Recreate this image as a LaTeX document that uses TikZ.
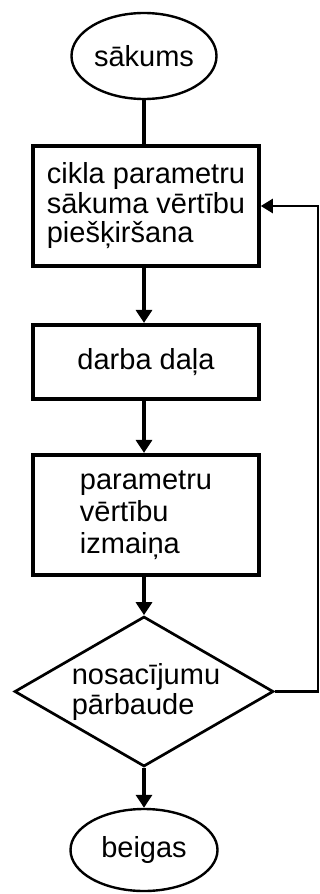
\documentclass[tikz,border=0pt]{standalone}
\usepackage{fontspec}
\setmainfont{Liberation Sans}
\usetikzlibrary{shapes.geometric,arrows.meta}
\begin{document}
\begin{tikzpicture}[x=1pt,y=-1pt,
  every node/.style={inner sep=0pt},
  terminal/.style={ellipse, draw, line width=2.4pt, minimum width=145pt, minimum height=86pt,
    font=\fontsize{29}{29}\selectfont},
  process/.style={rectangle, draw, line width=3.6pt, minimum width=226pt, align=left},
  decision/.style={diamond, draw, line width=2.7pt, minimum width=259pt, minimum height=150pt,
    aspect=1.72, align=left, font=\fontsize{29}{30}\selectfont},
  link/.style={line width=3.2pt},
  flow/.style={line width=3.2pt, -{Triangle[length=13pt,width=16pt]}},
  loopback/.style={line width=2.5pt, -{Triangle[length=12pt,width=14pt]}}
]
\useasboundingbox (0,0) rectangle (320,894);

% nodes of the flowchart
\node[terminal] (start) at (144,56) {sākums};
\node[process, minimum height=120pt, font=\fontsize{29}{29.5}\selectfont] (init) at (146,206)
  {cikla parametru\\sākuma vērtību\\piešķiršana};
\node[process, minimum height=74pt, font=\fontsize{29}{29}\selectfont] (work) at (146,361.7)
  {darba daļa};
\node[process, minimum height=120pt, font=\fontsize{29}{32}\selectfont] (update) at (146,514.7)
  {parametru\\vērtību\\izmaiņa};
\node[decision] (check) at (144,691.5) {\hspace*{4pt}nosacījumu\\\hspace*{4pt}pārbaude};
\node[terminal, minimum width=147pt, minimum height=82pt] (stop) at (144,850) {beigas};

% loop-back bend point
\coordinate (bend) at (318,206);

% connectors
\draw[link] (start.south) -- (init.north -| start.south);
\draw[flow] (init.south -| start.south) -- (work.north -| start.south);
\draw[flow] (work.south -| start.south) -- (update.north -| start.south);
\draw[flow] (update.south -| start.south) -- (check.north);
\draw[flow] (check.south) -- (stop.north);
\draw[loopback] (check.east) -| (bend) -- (init.east);
\end{tikzpicture}
\end{document}
